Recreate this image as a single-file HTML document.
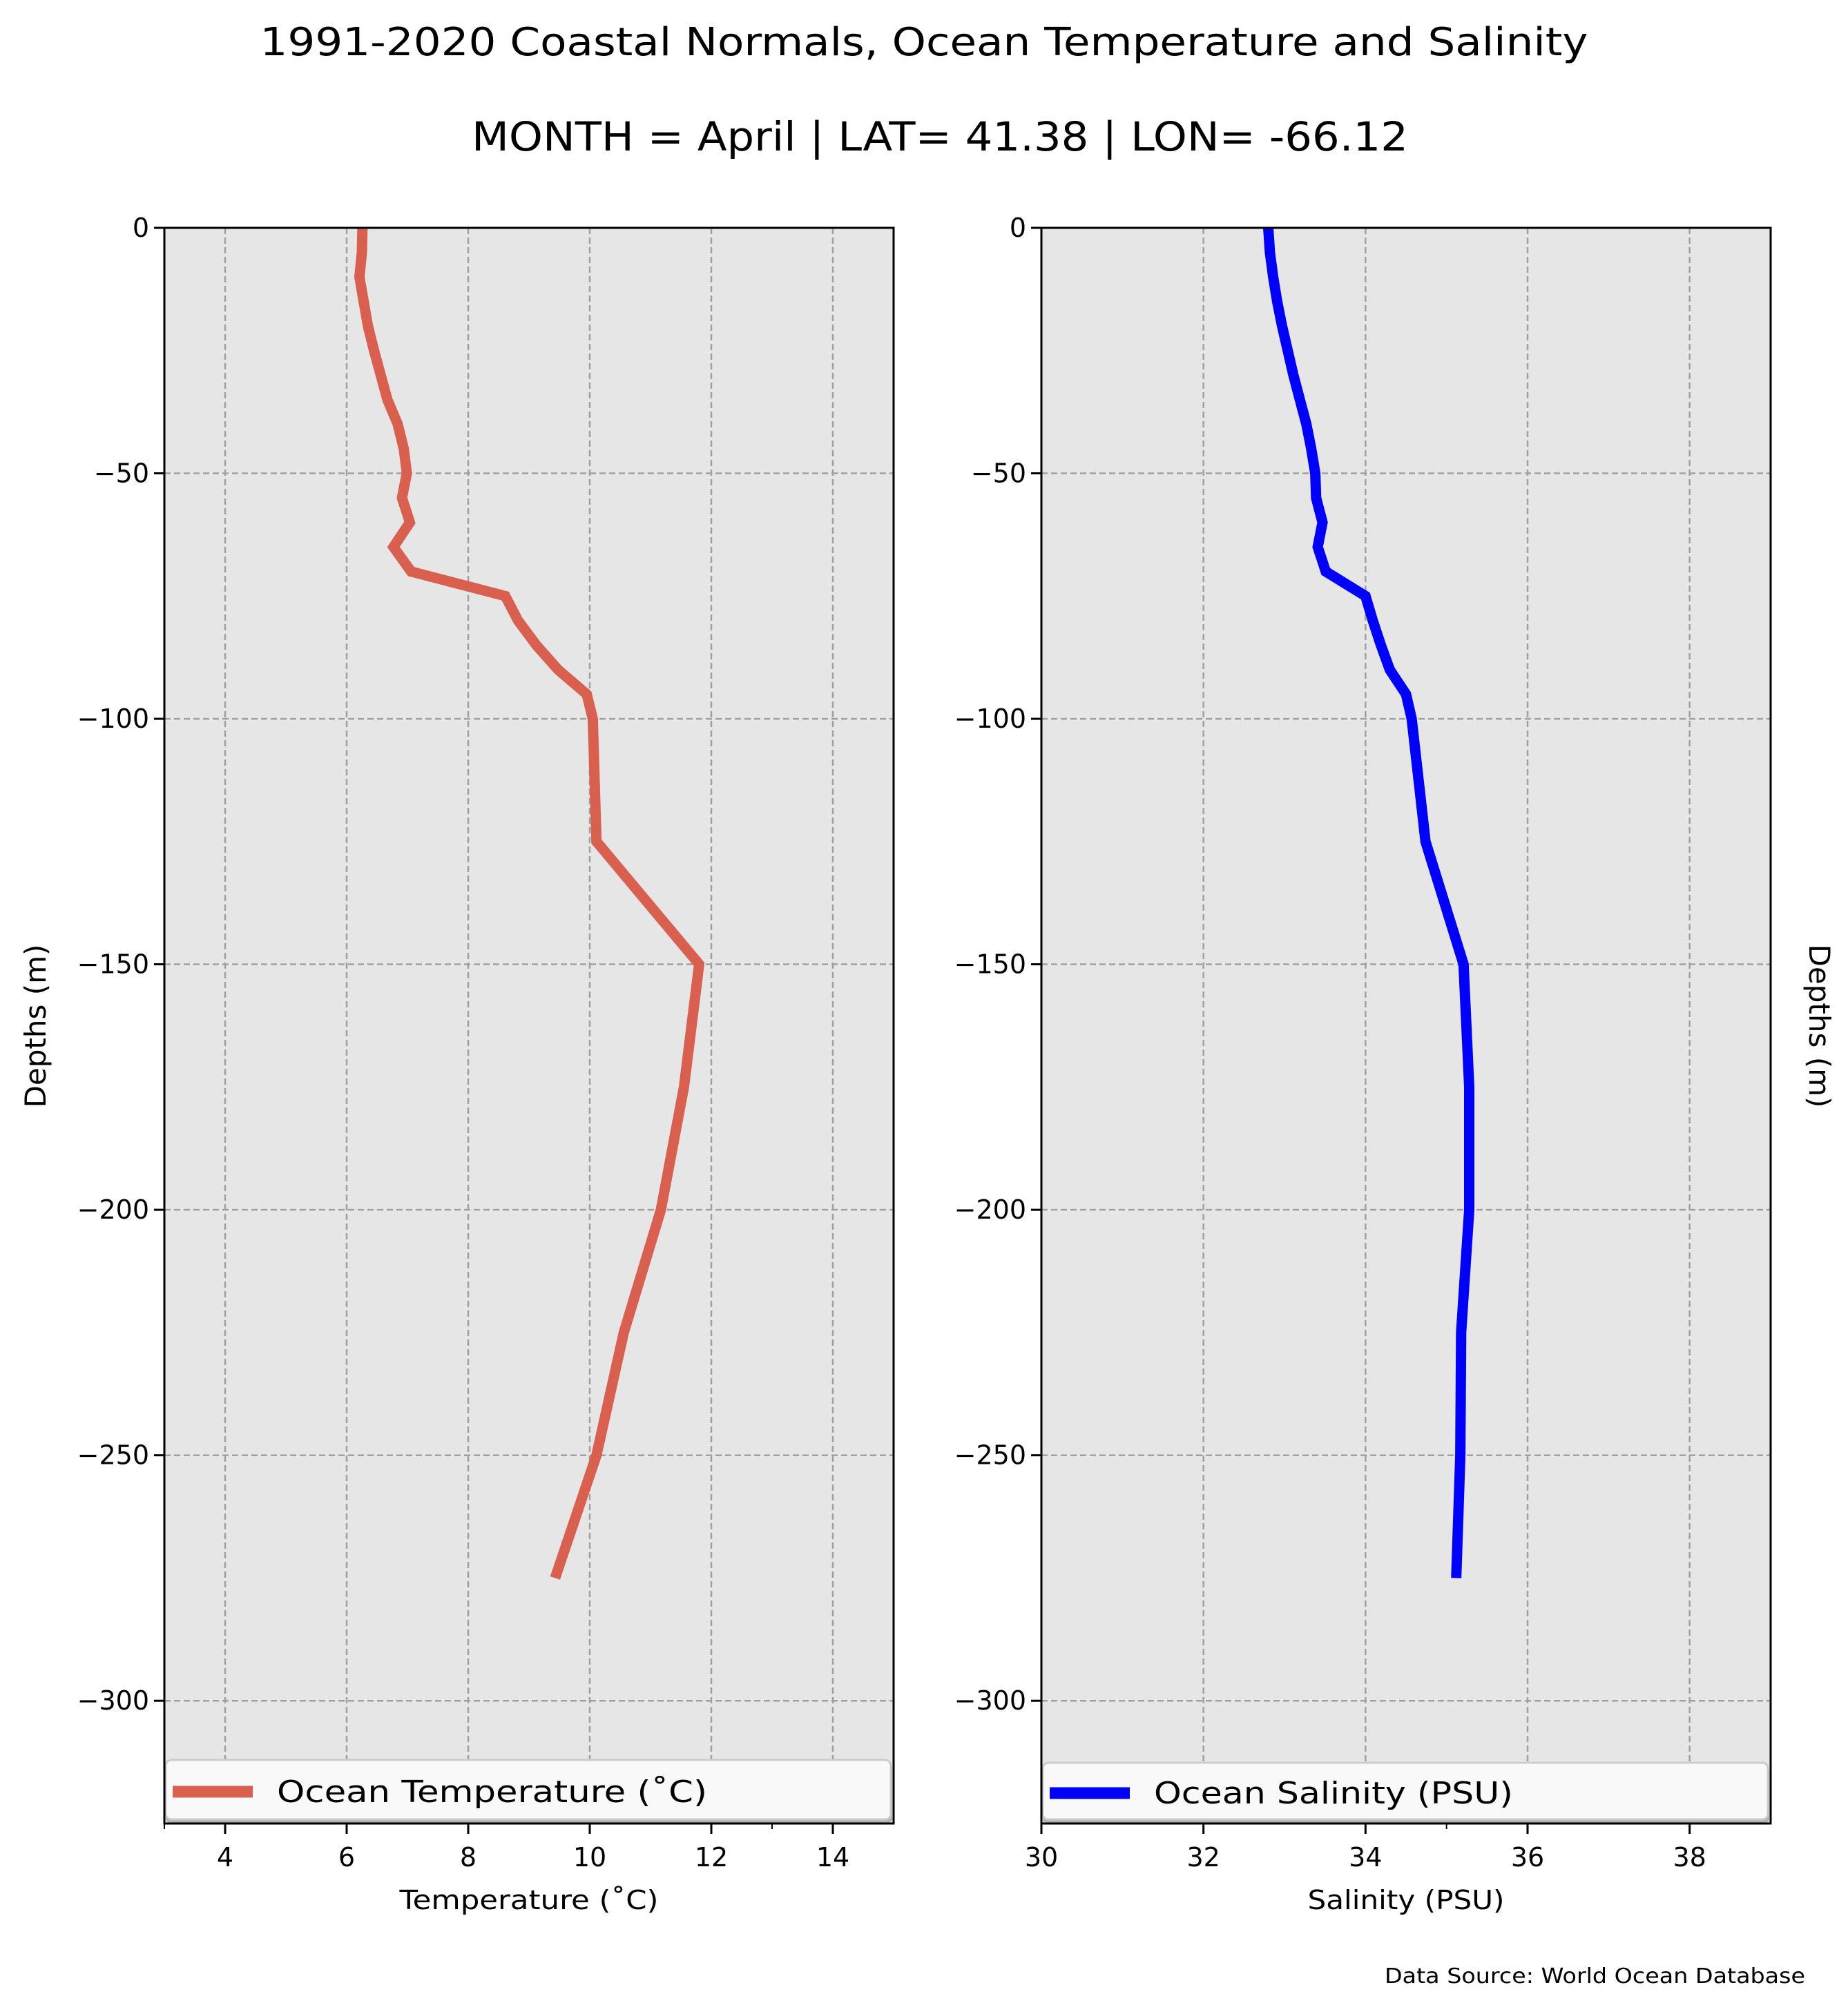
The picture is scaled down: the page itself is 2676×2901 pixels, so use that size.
<!DOCTYPE html>
<html><head><meta charset="utf-8"><style>
html,body{margin:0;padding:0;background:#fff;}
svg{display:block;font-family:"DejaVu Sans","Liberation Sans",sans-serif;}
</style></head><body>
<svg id="fig" width="2676" height="2901" viewBox="0 0 2676 2901" xmlns="http://www.w3.org/2000/svg">
<text x="1338" y="80" font-size="56" text-anchor="middle" textLength="1923" lengthAdjust="spacingAndGlyphs">1991-2020 Coastal Normals, Ocean Temperature and Salinity</text>
<text x="1361" y="218" font-size="58" text-anchor="middle" textLength="1356" lengthAdjust="spacingAndGlyphs">MONTH = April | LAT= 41.38 | LON= -66.12</text>
<g id="left"></g>
<g id="right"></g>
<text transform="translate(66,1486) rotate(-90)" font-size="42" text-anchor="middle">Depths (m)</text>
<text transform="translate(2620,1486) rotate(90)" font-size="42" text-anchor="middle">Depths (m)</text>
<text x="2614" y="2872" font-size="30" text-anchor="end" textLength="609" lengthAdjust="spacingAndGlyphs">Data Source: World Ocean Database</text>
</svg>
<script>
const depths = [0,5,10,15,20,25,30,35,40,45,50,55,60,65,70,75,80,85,90,95,100,125,150,175,200,225,250,275];
const temperature = [6.26,6.25,6.21,6.28,6.35,6.45,6.56,6.67,6.84,6.94,6.99,6.91,7.04,6.77,7.06,8.61,8.82,9.12,9.48,9.95,10.05,10.11,11.80,11.55,11.17,10.56,10.11,9.43];
const salinity = [32.80,32.82,32.86,32.91,32.97,33.04,33.11,33.19,33.27,33.33,33.38,33.39,33.47,33.41,33.51,34.0,34.09,34.19,34.30,34.50,34.57,34.74,35.21,35.28,35.28,35.18,35.17,35.12];
const depthTicks = [0,-50,-100,-150,-200,-250,-300];
const tempTicks = [4,6,8,10,12,14];
const tempMinor = [3,13];
const salTicks = [30,32,34,36,38];
const salMinor = [35];

const NS = "http://www.w3.org/2000/svg";
function mk(parent, tag, attrs){const e=document.createElementNS(NS,tag);for(const k in attrs)e.setAttribute(k,attrs[k]);parent.appendChild(e);return e;}

function panel(g, cfg){
  const L=cfg.x0, R=cfg.x0+1056, T=330, B=2641;
  const ymin=-325, ymax=0;
  const sx=v=>L+(v-cfg.xmin)/(cfg.xmax-cfg.xmin)*(R-L);
  const sy=v=>T+(ymax-v)/(ymax-ymin)*(B-T);
  const bg=mk(g,'rect',{x:L,y:T,width:R-L,height:B-T,fill:'#e6e6e6'});
  
  
  cfg.ticks.forEach(t=>{
    const gl=mk(g,'line',{x1:sx(t),x2:sx(t),y1:T,y2:B,stroke:'#a0a0a0','stroke-width':2.5,'stroke-dasharray':'9,5'});
    
    
  });
  depthTicks.forEach(t=>{
    const gl=mk(g,'line',{x1:L,x2:R,y1:sy(t),y2:sy(t),stroke:'#a0a0a0','stroke-width':2.5,'stroke-dasharray':'9,5'});
    
    
  });
  const pts=depths.map((d,i)=>sx(cfg.vals[i]).toFixed(1)+','+sy(-d).toFixed(1)).join(' ');
  const pl=mk(g,'polyline',{points:pts,fill:'none',stroke:cfg.color,'stroke-width':15,'stroke-linejoin':'miter','stroke-linecap':'butt'});
  
  
  // legend
  const lg=mk(g,'g',{});
  
  
  mk(lg,'rect',{x:L+2,y:cfg.legTop+3,width:R-L-4,height:2641-cfg.legTop-3,rx:8,fill:'#b0b0b0'});
  mk(lg,'rect',{x:L+2,y:cfg.legTop,width:R-L-6,height:2641-cfg.legTop-6,rx:8,fill:'#f9f9f9',stroke:'#cccccc','stroke-width':3});
  const ly=(cfg.legTop+2641)/2;
  mk(lg,'line',{x1:L+12,x2:L+128,y1:ly,y2:ly,stroke:cfg.color,'stroke-width':17});
  const lt=mk(lg,'text',{x:L+163,y:ly+15,'font-size':44,textLength:cfg.legW,lengthAdjust:'spacingAndGlyphs'});
  lt.textContent=cfg.legText;
  // spines
  const sp=mk(g,'rect',{x:L,y:T,width:R-L,height:B-T,fill:'none',stroke:'#000','stroke-width':3});
  
  
  depthTicks.forEach(t=>{
    mk(g,'line',{x1:L-15,x2:L,y1:sy(t),y2:sy(t),stroke:'#000','stroke-width':3});
    const tx=mk(g,'text',{x:L-22,y:sy(t)+13,'font-size':38,'text-anchor':'end'});
    
    
    tx.textContent=t<0?'\u2212'+(-t):String(t);
  });
  cfg.ticks.forEach(t=>{
    mk(g,'line',{x1:sx(t),x2:sx(t),y1:B,y2:B+15,stroke:'#000','stroke-width':3});
    const tx=mk(g,'text',{x:sx(t),y:2703,'font-size':38,'text-anchor':'middle'});
    
    
    tx.textContent=String(t);
  });
  cfg.minor.forEach(t=>{
    mk(g,'line',{x1:sx(t),x2:sx(t),y1:B,y2:B+8,stroke:'#000','stroke-width':2});
  });
  const xl=mk(g,'text',{x:(L+R)/2,y:2765,'font-size':38,'text-anchor':'middle',textLength:cfg.xlabW,lengthAdjust:'spacingAndGlyphs'});
  
  
  xl.textContent=cfg.xlabel;
}
panel(document.getElementById('left'),{x0:238,xmin:3,xmax:15,ticks:tempTicks,minor:tempMinor,vals:temperature,color:'#d9604e',lineName:'temperature-line',legendName:'temperature-legend',legTop:2549,legText:'Ocean Temperature (\u02daC)',legW:623,xlabel:'Temperature (\u02daC)',xlabW:375});
panel(document.getElementById('right'),{x0:1508,xmin:30,xmax:39,ticks:salTicks,minor:salMinor,vals:salinity,color:'#0000ff',lineName:'salinity-line',legendName:'salinity-legend',legTop:2553,legText:'Ocean Salinity (PSU)',legW:520,xlabel:'Salinity (PSU)',xlabW:285});
</script>
</body></html>
